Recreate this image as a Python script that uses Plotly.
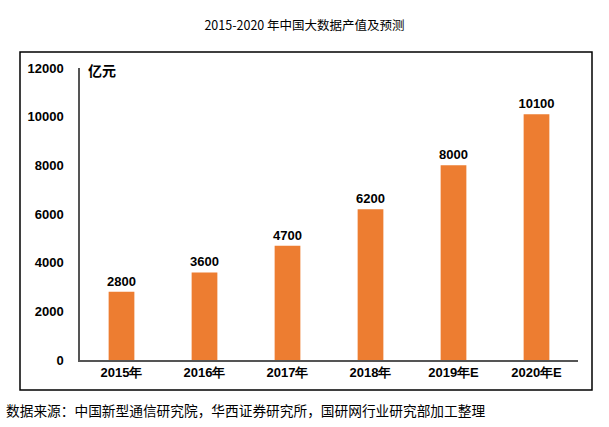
import plotly.graph_objects as go

categories = ["2015年", "2016年", "2017年", "2018年", "2019年E", "2020年E"]
values = [2800, 3600, 4700, 6200, 8000, 10100]
yticks = [0, 2000, 4000, 6000, 8000, 10000, 12000]

fig = go.Figure()
fig.add_trace(go.Bar(
    x=categories, y=values,
    marker=dict(color="#ED7D31", line=dict(width=0)),
    width=0.31,
    text=[str(v) for v in values], textposition="outside",
    textangle=0, constraintext="none",
    textfont=dict(family="Liberation Sans", size=13, color="#000000", weight="bold"),
    cliponaxis=False,
    hoverinfo="skip",
))

L, R, T, B = 80, 31, 68, 67
W, H = 609, 427
pw, ph = W - L - R, H - T - B

def px(x):
    return (x - L) / pw

def py(y):
    return (H - B - y) / ph

fig.update_layout(
    width=W, height=H,
    margin=dict(l=L, r=R, t=T, b=B),
    paper_bgcolor="white", plot_bgcolor="white",
    showlegend=False,
    uniformtext=dict(minsize=13, mode="show"),
    title=dict(text="2015-2020 年中国大数据产值及预测", x=0.5, xanchor="center",
               y=1 - 26 / H, yanchor="middle",
               font=dict(family="Noto Sans CJK SC", size=12.5, color="#000000")),
    xaxis=dict(showgrid=False, showline=True, linecolor="#555555", linewidth=1.5,
               ticks="", tickfont=dict(family="Liberation Sans", size=13, color="#000000", weight="bold"),
               range=[-0.5, 5.5]),
    yaxis=dict(range=[0, 12000], tickvals=yticks, ticktext=[str(v) for v in yticks],
               showgrid=False, showline=True,
               linecolor="#555555", linewidth=1.5, ticks="", ticklabelstandoff=12,
               tickfont=dict(family="Liberation Sans", size=13, color="#000000", weight="bold"),
               zeroline=False),
    shapes=[dict(type="rect", xref="paper", yref="paper",
                 x0=px(20), x1=px(592), y0=py(52), y1=py(390),
                 line=dict(color="#000000", width=1.5), layer="below")],
    annotations=[
        dict(text="<b>亿元</b>", xref="paper", yref="paper", x=px(86), y=py(70),
             xanchor="left", yanchor="middle", showarrow=False,
             font=dict(family="Noto Sans CJK SC", size=14, color="#000000")),
        dict(text="数据来源：中国新型通信研究院，华西证券研究所，国研网行业研究部加工整理",
             xref="paper", yref="paper", x=px(4), y=py(410), xanchor="left", yanchor="middle",
             showarrow=False,
             font=dict(family="Noto Sans CJK SC", size=13.7, color="#000000")),
    ],
)

fig.write_html("out.html", config={"displayModeBar": False},
               post_script="document.body.style.margin='0';")
